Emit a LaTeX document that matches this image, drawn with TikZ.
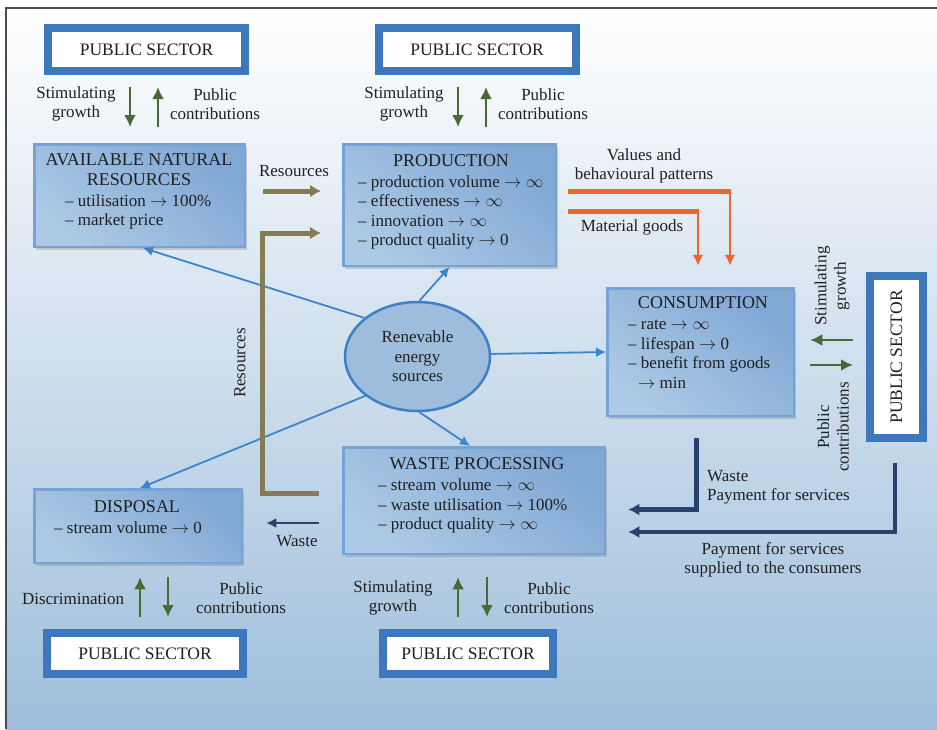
\documentclass[tikz,border=0pt]{standalone}
\usepackage{fontspec}
\setmainfont{Liberation Serif}
\usetikzlibrary{arrows.meta,positioning,shadows,shapes.geometric}

\definecolor{secblue}{RGB}{62,120,188}
\definecolor{edgeblue}{RGB}{118,163,214}
\definecolor{stagedark}{RGB}{128,168,213}
\definecolor{stagelight}{RGB}{202,221,238}
\definecolor{stagemid}{RGB}{172,201,229}
\definecolor{ovalfill}{RGB}{158,189,220}
\definecolor{ovaledge}{RGB}{62,128,198}
\definecolor{arrowblue}{RGB}{62,132,204}
\definecolor{resolive}{RGB}{133,123,84}
\definecolor{valorange}{RGB}{234,104,44}
\definecolor{pubgreen}{RGB}{72,104,52}
\definecolor{paynavy}{RGB}{40,66,110}
\definecolor{bgblue}{RGB}{158,190,219}
\definecolor{bgmid}{RGB}{220,231,241}
\definecolor{inkgray}{RGB}{32,32,32}

\newcommand{\dgfont}{\fontsize{17}{19.5}\selectfont}
\newcommand{\hdfont}{\fontsize{18}{20}\selectfont}

\tikzset{
  every node/.style={font=\dgfont, text=inkgray},
  sector/.style={draw=secblue, line width=8pt, fill=white, inner sep=0pt, font=\fontsize{17.5}{20}\selectfont},
  stage/.style={draw=edgeblue, line width=2.5pt, inner sep=0pt,
    top color=stagedark, middle color=stagelight, bottom color=stagemid, shading angle=-40,
    drop shadow={shadow xshift=2pt, shadow yshift=-3pt, opacity=0.35}},
  btitle/.style={inner sep=0pt, align=center, font=\hdfont},
  blist/.style={inner sep=0pt, align=left, anchor=west},
  lbl/.style={inner sep=0pt, align=center},
  gar/.style={draw=pubgreen, line width=2.6pt, -{Latex[length=12pt,width=12pt]}},
  bar/.style={draw=arrowblue, line width=1.8pt, -{Latex[length=10pt,width=10pt]}},
  oar/.style={draw=resolive, line width=5pt, -{Latex[length=11pt,width=13pt]}},
  orline/.style={draw=valorange, line width=5pt},
  orar/.style={draw=valorange, line width=2.5pt, -{Latex[length=11pt,width=11pt]}},
  nar/.style={draw=paynavy, line width=4.5pt, -{Latex[length=11pt,width=12pt]}},
}

\begin{document}
\begin{tikzpicture}[x=1pt,y=-1pt]
  \useasboundingbox (0,0) rectangle (937,729);
  \fill[white] (0,0) rectangle (937,729);
  \shade[top color=white, middle color=bgmid, bottom color=bgblue] (6,8) rectangle (937,729);
  \draw[gray!60!black, line width=2pt] (937,8) -- (6,8) -- (6,729);

  % public sector boxes
  \node[sector, minimum width=197, minimum height=43] (psA) at (146.5,49.5) {PUBLIC SECTOR};
  \node[sector, minimum width=197, minimum height=43] (psB) at (477,49.5) {PUBLIC SECTOR};
  \node[sector, minimum width=196, minimum height=41] (psC) at (145,653.5) {PUBLIC SECTOR};
  \node[sector, minimum width=170, minimum height=41] (psD) at (468,653.5) {PUBLIC SECTOR};
  \node[sector, minimum width=53, minimum height=162] (psE) at (896.5,357) {\rotatebox{90}{PUBLIC SECTOR}};

  % stages
  \node[stage, minimum width=210.5, minimum height=102.5] (anr) at (139.5,195.5) {};
  \node[stage, minimum width=212.5, minimum height=121.5] (prod) at (449.5,205) {};
  \node[stage, minimum width=186.5, minimum height=127.5] (cons) at (700.5,352) {};
  \node[stage, minimum width=261.5, minimum height=106.5] (waste) at (474,500.5) {};
  \node[stage, minimum width=207.5, minimum height=73.5] (disp) at (138,526) {};
  \node[ellipse, draw=ovaledge, line width=2.5pt, fill=ovalfill, minimum width=145, minimum height=109, align=center, inner sep=0pt] (res) at (417.5,356.5) {Renevable\\energy\\sources};

  \node[btitle] (anrT) at (139,170) {AVAILABLE NATURAL\\RESOURCES};
  \node[blist] (anrL) at (65,212) {-- utilisation $\to$ 100\%\\-- market price};
  \node[btitle] (prodT) at (451,161) {PRODUCTION};
  \node[blist] (prodL) at (358,212.5) {-- production volume $\to\infty$\\-- effectiveness $\to\infty$\\-- innovation $\to\infty$\\-- product quality $\to$ 0};
  \node[btitle] (consT) at (703,303) {CONSUMPTION};
  \node[blist] (consL) at (628,354) {-- rate $\to\infty$\\-- lifespan $\to$ 0\\-- benefit from goods\\\hspace*{10pt}$\to$ min};
  \node[btitle] (wasteT) at (477,464) {WASTE PROCESSING};
  \node[blist] (wasteL) at (378,506) {-- stream volume $\to\infty$\\-- waste utilisation $\to$ 100\%\\-- product quality $\to\infty$};
  \node[btitle] (dispT) at (137,507) {DISPOSAL};
  \node[blist] (dispL) at (54,528) {-- stream volume $\to$ 0};

  % labels
  \node[lbl] (stimA) at (76,104) {Stimulating\\growth};
  \node[lbl] (contA) at (215,104) {Public\\contributions};
  \node[lbl] (stimB) at (404,104) {Stimulating\\growth};
  \node[lbl] (contB) at (543,104) {Public\\contributions};
  \node[lbl] (discC) at (73,599) {Discrimination};
  \node[lbl] (contC) at (241,598) {Public\\contributions};
  \node[lbl] (stimD) at (393,598) {Stimulating\\growth};
  \node[lbl] (contD) at (549,598) {Public\\contributions};
  \node[lbl, rotate=90] (stimE) at (832,286) {Stimulating\\growth};
  \node[lbl, rotate=90] (contE) at (833,427) {Public\\contributions};
  \node[lbl] (resT) at (294,171) {Resources};
  \node[lbl, rotate=90] (resV) at (240,363) {Resources};
  \node[lbl] (valT) at (644,166) {Values and\\behavioural patterns};
  \node[lbl] (matT) at (632,227) {Material goods};
  \node[lbl, anchor=west, align=left] (payT) at (707,487.5) {Waste\\Payment for services};
  \node[lbl] (supT) at (773,560) {Payment for services\\supplied to the consumers};
  \node[lbl] (wasT) at (297,541) {Waste};

  % public sector arrows
  \draw[gar] ([xshift=-16.5pt,yshift=-12pt]psA.south) -- ([xshift=-9.5pt,yshift=16pt]anr.north);
  \draw[gar] ([xshift=18.5pt,yshift=16pt]anr.north) -- ([xshift=11.5pt,yshift=-12pt]psA.south);
  \draw[gar] ([xshift=-19pt,yshift=-12pt]psB.south) -- ([xshift=8.5pt,yshift=16pt]prod.north);
  \draw[gar] ([xshift=36.5pt,yshift=16pt]prod.north) -- ([xshift=9pt,yshift=-12pt]psB.south);
  \draw[gar] ([xshift=-5pt,yshift=12pt]psC.north) -- ([xshift=2pt,yshift=-13.25pt]disp.south);
  \draw[gar] ([xshift=30pt,yshift=-13.25pt]disp.south) -- ([xshift=23pt,yshift=12pt]psC.north);
  \draw[gar] ([xshift=-10pt,yshift=12pt]psD.north) -- ([xshift=-16pt,yshift=-22.25pt]waste.south);
  \draw[gar] ([xshift=13pt,yshift=-22.25pt]waste.south) -- ([xshift=19pt,yshift=12pt]psD.north);
  \draw[gar] ([xshift=-13pt,yshift=17pt]psE.west) -- ([xshift=15.25pt,yshift=12pt]cons.east);
  \draw[gar] ([xshift=15.25pt,yshift=-13pt]cons.east) -- ([xshift=-13pt,yshift=-8pt]psE.west);

  % energy arrows
  \draw[bar] (res.144) -- ([xshift=3.5pt]anr.south);
  \draw[bar] (res.88) -- (prod.south);
  \draw[bar] (res.2) -- (cons.west);
  \draw[bar] (res.217) -- ([xshift=2pt]disp.north);
  \draw[bar] (res.272) -- ([xshift=-4pt]waste.north);

  % resources
  \draw[oar] ([xshift=17pt,yshift=4.5pt]anr.east) -- ([xshift=-21pt,yshift=14pt]prod.west);
  \draw[oar, line join=miter] ([xshift=-23pt,yshift=7.5pt]waste.west) -- ++(-57,0) |- ([xshift=-21pt,yshift=-28pt]prod.west);

  % values and goods
  \coordinate (valS) at ([xshift=10.75pt,yshift=14pt]prod.east);
  \coordinate (valC) at ([xshift=29.5pt]cons.north |- valS);
  \coordinate (matS) at ([xshift=10.75pt,yshift=-6pt]prod.east);
  \coordinate (matC) at ([xshift=-2.5pt]cons.north |- matS);
  \draw[orline] (valS) -- ([xshift=1pt]valC);
  \draw[orar] ([yshift=2.5pt]valC) -- ([xshift=29.5pt,yshift=21.25pt]cons.north);
  \draw[orline] (matS) -- ([xshift=1pt]matC);
  \draw[orar] ([yshift=2.5pt]matC) -- ([xshift=-2.5pt,yshift=21.25pt]cons.north);

  % waste and payments
  \draw[nar, line join=miter] ([xshift=-4pt,yshift=-21pt]cons.south) |- ([xshift=22.25pt,yshift=-9pt]waste.east);
  \draw[nar, line join=miter] ([xshift=-1.5pt,yshift=-21pt]psE.south) |- ([xshift=22.25pt,yshift=-31.5pt]waste.east);
  \draw[nar, line width=2.5pt, -{Latex[length=10pt,width=10pt]}] ([xshift=-23pt,yshift=-22.5pt]waste.west) -- ([xshift=23.25pt,yshift=3pt]disp.east);
\end{tikzpicture}
\end{document}
